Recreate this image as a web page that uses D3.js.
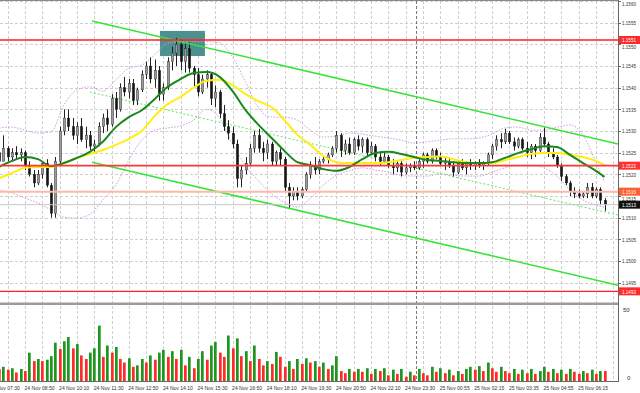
<!DOCTYPE html>
<html>
<head>
<meta charset="utf-8">
<script src="https://cdn.jsdelivr.net/npm/d3@7"></script>
<style>
  body { margin: 0; background: #fff; }
  svg { display: block; font-family: "Liberation Sans", Arial, sans-serif; }
</style>
</head>
<body>
<div id="chart"></div>
<script>
// EURUSD M5-style chart, 10 min per bar here. Prices kept as pips above 1.1500

// candles (pips above 1.1500)
const opens = [25,23,26,24,25,24.5,25,22,20,18, 20,22.5,17.5,11,23,30,33,31,29,31,
  28,29,26.5,27,31,33,31.5,37.5,35,40, 39,41,37,39.5,43,45,42,44,38.5,40,
  46,48,50,46,49,44.5,43,39,42,43, 37.5,39,34,31,29.5,27,19,21,22.5,26,
  29,26,25,27,23,25,23.5,17,15,16, 15,16.5,20,22,21,23,23.5,24.5,26,29,
  25.5,27,25,28,26.5,28,25,26.5,24,23, 24,22,21.5,22.5,20.5,21.5,22,21.5,23,24.5,
  23,25.5,24,22.5,23,22,20.5,22.5,21.5,22.5, 22,22.5,22,22.5,24.5,26.5,28,27.5,29.5,27.5,
  26.5,28,26,25,26.5,25.5,28.5,27,25,24, 22,19.5,18,16,15.5,15,15.5,17,15,16.5, 14];
const highs = [27,29,26.5,26,26.5,26,25.5,23,21,21, 23,23.5,18,24,31,35,35,33,32,33,
  31,30,28,32,34,35,38.5,39,41,42.5, 42,42,40,44,46,47,46.5,45,41,47,
  49.5,51.5,51,50.5,50.5,45,44.5,43,44,43.5, 40.5,39.5,36,32.5,31,28,22,24,27,30,
  30.5,27.5,28,27.5,25.5,26,24,18,17,17, 17,20.5,23,24,23.5,24,25,26.5,30,29.5,
  28,28.5,28.5,29,28.5,28.5,27.5,27,25,25, 24.5,23.5,23,23,22.5,22.5,23,23.5,25,25,
  26,26,25,24,24,23,23,23.5,23,23.5, 23,23.5,23,25,27,29,29.5,30.5,30,28.5,
  28.5,28.5,27.5,27,27,29.5,30.8,27.5,26,24.5, 22.5,20,18.5,17,16.5,16,18,18,17,17, 14.5];
const lows = [21,23,23,23,23.5,23,21,19.5,17,17.5, 19,17,10,10,22,29,30,28,27,27.5,
  26,25.5,25,26.5,29.5,30,31,33,34.5,38, 37.5,36,36,39,42,41,40,37,37,39.5,
  44,45,44,43.5,43.5,40,38,38.5,40,36, 35.5,33,30,28,26,17,17,20,22,25,
  25,23,23.5,22,22,22,16,12,14,14, 14.5,16,19,20,20,22.5,22.5,24,25,24,
  24.5,24.5,24.5,25.5,25,24,24.5,23,22,22.5, 21.5,20,20.5,19.5,20,20.5,21,21,21.5,22.5,
  22.5,23.5,22,21,21.5,19.5,20,21,20,21, 21,21.5,21,22,23.5,25.5,26,27,27,25.5,
  26,25.5,24,23.5,24,25,26.5,24,23.5,21.5, 18.5,17.5,15,14.5,14.5,14.5,14.5,14.5,14.5,13, 11.5];
const closes = [23,26,24,25,24.5,25,22,20,18,20, 22.5,17.5,11,23,30,33,31,29,31,28,
  29,26.5,27,31,33,31.5,37.5,35,40,39, 41,37,39.5,43,45,42,44,38.5,40,46,
  48,50,46,49,44.5,43,39,42,43,37.5, 39,34,31,29.5,27,19,21,22.5,26,29,
  26,25,27,23,25,23.5,17,15,16,15, 16.5,20,22,21,23,23.5,24.5,26,29,25.5,
  27,25,28,26.5,28,25,26.5,24,23,24, 22,21.5,22.5,20.5,21.5,22,21.5,23,24.5,23,
  25.5,24,22.5,23,22,20.5,22.5,21.5,22.5,22, 22.5,22,22.5,24.5,26.5,28,27.5,29.5,27.5,26.5,
  28,26,25,26.5,25.5,28.5,27,25,24,22, 19.5,18,16,15.5,15,15.5,17,15,16.5,14, 13];
const volumes = [8.5,10,8,9,6,8.5,7,20,14,15.5, 14,15,17.5,27,22.5,28,31,23,26,18,
  15.5,20,23,39,17,25,20,24,15.5,13, 16,10,11,15.5,13,18,15,20,22,17,
  21,15.5,22,11,17,9,15.5,21,15,25, 27.5,20,17,32,23,30,17.5,21,14,25,
  15.5,11,14,12,20.5,17,10,14,8.5,15.5, 12,16,13,14,10,13,8.5,11,17.5,7,
  5.5,8.5,6.5,8.5,6.5,9,5,8.5,7,9, 4,8,5,8.5,3,6.5,4,8.5,5.5,4,
  10,6.5,9,5.5,8,4,7,5,8.5,10, 8,10.5,7,13,9,6.5,10,7,5.5,8.5,
  5,8,5.5,8.5,5,7,10,6.5,8.5,5.5, 8,5,8.5,6.5,5,7,5.5,8,5,7, 7];

// indicators, read every 3rd bar (last one at bar 140)
const maGreen = [21.7,23.1,24.0,23.5,21.9,22.6,23.8,25.2,27.5,30.9, 33.2,34.8,37.4,40.2,42.0,43.4,43.6,42.5,39.2,34.8,
  31.4,28.4,25.4,22.8,22.1,21.2,20.8,21.7,23.5,24.9, 25.2,24.7,24.0,23.3,23.1,22.8,22.6,22.6,22.8,23.8,
  24.9,25.8,26.5,26.3,24.5,22.6,20.8,19.4];
const maYellow = [19.1,20.3,21.5,21.7,21.7,22.6,23.8,24.7,25.6,26.8, 28.2,30.0,33.5,36.2,37.9,40.0,41.6,41.8,40.6,38.5,
  36.9,35.5,32.5,29.1,26.8,24.2,22.8,22.6,22.6,22.6, 22.8,23.3,23.8,24.0,24.2,23.5,22.8,22.6,22.6,23.3,
  24.0,24.7,24.9,24.9,24.5,24.0,23.1,22.1];
const bandUpper = [30.7,30.9,30.2,29.5,29.8,36,39.5,40.2,39.2,41.8, 44.5,45.2,47.6,50.3,50.6,50.6,50.6,50.3,47.1,41.3,
  35.3,33.2,33.2,32.5,30.2,28.6,28.8,29.5,29.3,28.8, 28.4,27.9,27.2,27.5,27.9,28.2,28.2,28.4,29.3,30.7,
  30.9,30.2,30.2,30.9,31.4,29.1,22.8,18.2];
const bandLower = [16.4,15.7,14.5,13.4,11.8,10.1,9.9,10.8,14.1,17.5, 23.3,27.9,30.2,30.7,31.2,32.5,35,33,27,22,
  18.5,15.5,13.5,12.5,14.5,17.5,19.8,20.8,21.5,21.0, 20.5,19.8,19.6,19.6,20.1,19.8,19.6,19.6,20.5,21.5,
  22.1,22.1,21.5,19.6,16.4,14.1,12.9,12.4];
const sampleBars = d3.range(0, 139, 3).concat([140]);

// drawn objects: [bar, pips]
const channelTop = [[21.5, 55.4], [143.1, 27.0]];
const channelBottom = [[21.5, 22.8], [143.1, -5.6]];
const channelMid = [[21.0, 39.0], [143.1, 10.6]];
const zoneBars = [37.2, 47.6];
const zonePips = [47.3, 53.1];

const levels = [
  { price: 1.1551, color: "#ff2020", label: "#ff2a2a", w: 1.3 },
  { price: 1.1522, color: "#ff3636", label: "#ff3030", w: 1.8 },
  { price: 1.1516, color: "#ffb8a6", label: "#ff5f2e", w: 2 },
  { price: 1.1513, color: "#c6c6c6", label: "#111111", w: 1 },
  { price: 1.1493, color: "#ff2020", label: "#ff2a2a", w: 1.3 }
];
const priceTicks = d3.range(0, 14).map(k => +(1.1495 + k * 0.0005).toFixed(4));
const timeLabels = ["24 Nov 07:30","24 Nov 08:50","24 Nov 10:10","24 Nov 11:30","24 Nov 12:50",
  "24 Nov 14:10","24 Nov 15:30","24 Nov 16:50","24 Nov 18:10","24 Nov 19:30","24 Nov 20:50",
  "24 Nov 22:10","24 Nov 23:30","25 Nov 00:55","25 Nov 02:15","25 Nov 03:35","25 Nov 04:55","25 Nov 06:15"];
const dayBreak = 96.5;

const width = 640, height = 393;
const plotRight = 618;
const pane = { top: 1, bottom: 302 };
const vol = { top: 306, bottom: 381 };

const P = v => 1.15 + v / 10000;

const x = d3.scaleLinear().domain([6, 134]).range([25, 578.6]);
const y = d3.scaleLinear().domain([1.1500, 1.1530]).range([261, 131]);
const yv = d3.scaleLinear().domain([0, 50]).range([vol.bottom, 310]);

const svg = d3.select("#chart").append("svg")
  .attr("width", width).attr("height", height);

svg.append("rect").attr("width", width).attr("height", height).attr("fill", "#fff");

const defs = svg.append("defs");
defs.append("clipPath").attr("id", "pclip").append("rect")
  .attr("x", 0).attr("y", pane.top).attr("width", plotRight).attr("height", pane.bottom - pane.top);
defs.append("clipPath").attr("id", "vclip").append("rect")
  .attr("x", 0).attr("y", vol.top).attr("width", plotRight).attr("height", vol.bottom - vol.top);
defs.append("clipPath").attr("id", "tclip").append("rect")
  .attr("x", 0).attr("y", vol.bottom + 1).attr("width", plotRight).attr("height", 12);

// grid
const gridX = d3.range(2, 143, 4);
const grid = svg.append("g").attr("stroke", "#cfcfcf").attr("stroke-dasharray", "3,2").attr("stroke-width", 1);
grid.selectAll(".gx").data(gridX).enter().append("line")
  .attr("x1", d => Math.round(x(d)) + 0.5).attr("x2", d => Math.round(x(d)) + 0.5)
  .attr("y1", pane.top).attr("y2", vol.bottom);
grid.selectAll(".gy").data(priceTicks).enter().append("line")
  .attr("x1", 0).attr("x2", plotRight)
  .attr("y1", d => Math.round(y(d)) + 0.5).attr("y2", d => Math.round(y(d)) + 0.5);

// day separator
svg.append("line")
  .attr("x1", Math.round(x(dayBreak)) + 0.5).attr("x2", Math.round(x(dayBreak)) + 0.5)
  .attr("y1", pane.top).attr("y2", vol.bottom)
  .attr("stroke", "#777").attr("stroke-dasharray", "3,2");

const pg = svg.append("g").attr("clip-path", "url(#pclip)");

// teal zone at the top
pg.append("rect")
  .attr("x", x(zoneBars[0])).attr("width", x(zoneBars[1]) - x(zoneBars[0]))
  .attr("y", y(P(zonePips[1]))).attr("height", y(P(zonePips[0])) - y(P(zonePips[1])))
  .attr("fill", "#4d9090");

// bollinger bands
const smooth = d3.line().x(d => x(d[0])).y(d => y(P(d[1]))).curve(d3.curveMonotoneX);
[bandUpper, bandLower].forEach(band => {
  pg.append("path")
    .datum(sampleBars.map((b, k) => [b, band[k]]))
    .attr("d", smooth).attr("fill", "none")
    .attr("stroke", "#cf9ade").attr("stroke-width", 1).attr("stroke-dasharray", "1.5,1.5");
});

// channel middle (dotted)
const straight = d3.line().x(d => x(d[0])).y(d => y(P(d[1])));
pg.append("path").datum(channelMid).attr("d", straight)
  .attr("stroke", "#5fe85f").attr("stroke-width", 1).attr("stroke-dasharray", "2,2").attr("fill", "none");

// candles
const bars = d3.range(closes.length);
pg.selectAll(".wick").data(bars).enter().append("line")
  .attr("x1", i => Math.round(x(i)) + 0.5).attr("x2", i => Math.round(x(i)) + 0.5)
  .attr("y1", i => y(P(highs[i]))).attr("y2", i => y(P(lows[i])))
  .attr("stroke", "#222").attr("stroke-width", 1);
pg.selectAll(".body").data(bars).enter().append("rect")
  .attr("x", i => Math.round(x(i)) - 0.7).attr("width", 2.4)
  .attr("y", i => y(P(Math.max(opens[i], closes[i]))))
  .attr("height", i => Math.max(1, Math.abs(y(P(opens[i])) - y(P(closes[i])))))
  .attr("fill", i => closes[i] >= opens[i] ? "#9b9b9b" : "#151515")
  .attr("stroke", "#222").attr("stroke-width", 0.4);

// moving averages
pg.append("path").datum(sampleBars.map((b, k) => [b, maYellow[k]]))
  .attr("d", smooth).attr("fill", "none").attr("stroke", "#ffee14").attr("stroke-width", 2);
pg.append("path").datum(sampleBars.map((b, k) => [b, maGreen[k]]))
  .attr("d", smooth).attr("fill", "none").attr("stroke", "#19871c").attr("stroke-width", 2);

// channel lines
[channelTop, channelBottom].forEach(c => {
  pg.append("path").datum(c).attr("d", straight)
    .attr("stroke", "#3ae23a").attr("stroke-width", 1.6).attr("fill", "none");
});

// horizontal levels
pg.selectAll(".lvl").data(levels).enter().append("line")
  .attr("x1", 0).attr("x2", plotRight)
  .attr("y1", d => y(d.price)).attr("y2", d => y(d.price))
  .attr("stroke", d => d.color).attr("stroke-width", d => d.w);

// volumes
const vg = svg.append("g").attr("clip-path", "url(#vclip)");
vg.selectAll(".vb").data(bars).enter().append("rect")
  .attr("x", i => Math.round(x(i)) - 1).attr("width", 2.7)
  .attr("y", i => yv(volumes[i])).attr("height", i => vol.bottom - yv(volumes[i]))
  .attr("fill", i => i > 0 && volumes[i] > volumes[i - 1] ? "#1f961f" : "#ff2b2b");

// frames
svg.append("line").attr("x1", 0).attr("x2", plotRight).attr("y1", 0.5).attr("y2", 0.5).attr("stroke", "#888");
svg.append("rect").attr("x", 0).attr("y", 302.5).attr("width", plotRight).attr("height", 2.5).attr("fill", "#9c9c9c");
svg.append("line").attr("x1", 0).attr("x2", plotRight).attr("y1", vol.bottom + 0.5).attr("y2", vol.bottom + 0.5).attr("stroke", "#666");
svg.append("line").attr("x1", plotRight + 0.5).attr("x2", plotRight + 0.5).attr("y1", 0).attr("y2", vol.bottom + 1).attr("stroke", "#666");

// price axis; a tick label that sits under a level box is pushed below it or left out
const ax = svg.append("g").attr("font-size", 6).attr("fill", "#333");
const boxY = levels.map(d => y(d.price));
priceTicks.forEach(p => {
  const yy = y(p);
  ax.append("line").attr("x1", plotRight).attr("x2", plotRight + 3)
    .attr("y1", Math.round(yy) + 0.5).attr("y2", Math.round(yy) + 0.5).attr("stroke", "#666");
  const near = boxY.filter(b => Math.abs(b - yy) < 8);
  let ty = Math.max(yy, 3.5) + 2.2;
  if (near.length > 1) return;
  if (near.length === 1) ty = near[0] + 4 + 5.2;
  ax.append("text").attr("x", 622).attr("y", ty)
    .attr("textLength", 14).attr("lengthAdjust", "spacingAndGlyphs")
    .text(p.toFixed(4));
});
levels.forEach(d => {
  const yy = y(d.price);
  ax.append("rect").attr("x", 619).attr("y", yy - 4).attr("width", 21).attr("height", 8).attr("fill", d.label);
  ax.append("text").attr("x", 622).attr("y", yy + 2.2).attr("fill", "#fff")
    .attr("textLength", 14).attr("lengthAdjust", "spacingAndGlyphs").text(d.price.toFixed(4));
});

// volume axis
ax.append("text").attr("x", 623).attr("y", yv(50) + 1.5).text("50");
ax.append("text").attr("x", 627).attr("y", yv(0) - 1).text("0");

// time axis
const tg = svg.append("g").attr("font-size", 6.2).attr("fill", "#333").attr("clip-path", "url(#tclip)");
timeLabels.forEach((t, k) => {
  const b = -2 + k * 8;
  tg.append("text").attr("x", x(b) - 0.5).attr("y", 389.5)
    .attr("textLength", 30).attr("lengthAdjust", "spacingAndGlyphs").text(t);
});
</script>
</body>
</html>
